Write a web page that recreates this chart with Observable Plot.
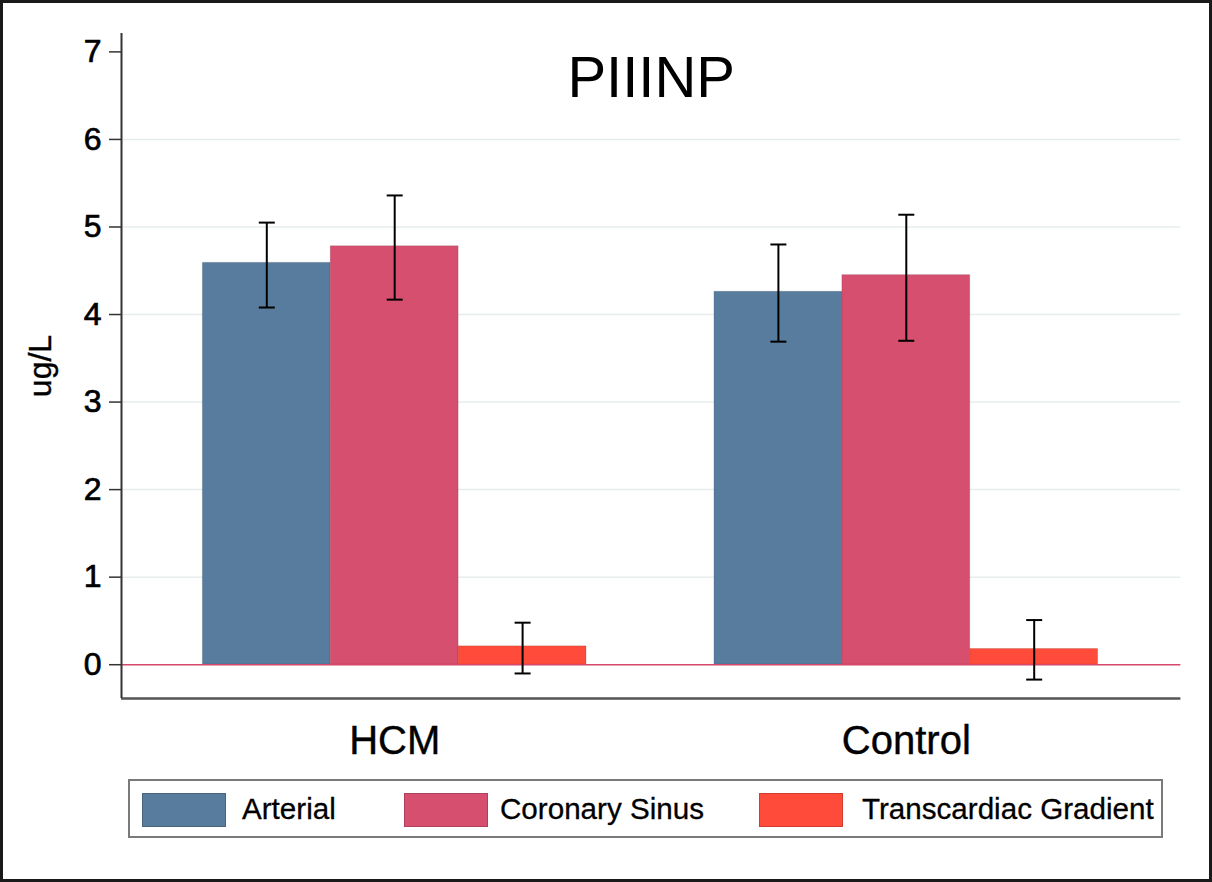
<!DOCTYPE html>
<html><head><meta charset="utf-8">
<script src="https://cdn.jsdelivr.net/npm/d3@7"></script>
<script src="https://cdn.jsdelivr.net/npm/@observablehq/plot@0.6"></script>
<style>
body{margin:0;background:#fff;}
#wrap{position:relative;width:1212px;height:882px;overflow:hidden;font-family:"Liberation Sans",Arial,Helvetica,sans-serif;background:#fff;}
#border{position:absolute;left:0;top:0;width:1212px;height:882px;box-sizing:border-box;border:3px solid #1a1a1a;pointer-events:none;}
#chart{position:absolute;left:0;top:0;}
#chart g[aria-label="y-axis tick label"] text{stroke:#000;stroke-width:0.7px;}
#chart .heavy text, #chart text.heavy{stroke:#000;stroke-width:0.4px;}
#legend{position:absolute;left:128px;top:779px;width:1035px;height:59px;box-sizing:border-box;border:2px solid #7a7a7a;background:#fff;}
.sw{position:absolute;top:12px;width:84px;height:34px;box-sizing:border-box;border:1.5px solid rgba(0,0,0,0.18);}
.lt{position:absolute;top:0;line-height:55px;font-size:29.6px;color:#000;white-space:nowrap;-webkit-text-stroke:0.3px #000;}
</style></head>
<body>
<div id="wrap"><div id="chart"></div><div id="legend"></div><div id="border"></div></div>
<script>
// ---- data ----
const groups = ["HCM", "Control"];
const series = ["Arterial", "Coronary Sinus", "Transcardiac Gradient"];
const hcmMean = [4.59, 4.78, 0.21];
const hcmLow = [4.08, 4.17, -0.10];
const hcmHigh = [5.05, 5.36, 0.48];
const controlMean = [4.26, 4.45, 0.18];
const controlLow = [3.69, 3.70, -0.17];
const controlHigh = [4.80, 5.14, 0.51];
const yTicks = [0, 1, 2, 3, 4, 5, 6, 7];
const gridTicks = [1, 2, 3, 4, 5, 6];
const colors = ["#587c9d", "#d64f6e", "#ff4b3a"];
const title = "PIIINP";
const yLabel = "ug/L";

// ---- build table ----
const groupData = [
  {group: groups[0], mean: hcmMean, low: hcmLow, high: hcmHigh},
  {group: groups[1], mean: controlMean, low: controlLow, high: controlHigh}
];
const step = series.length + 1; // one empty slot between groups
const rows = groupData.flatMap((g, gi) => series.map((s, si) => ({
  group: g.group, series: s, slot: gi * step + si,
  mean: g.mean[si], low: g.low[si], high: g.high[si]
})));
const groupLabels = groups.map((g, gi) => ({label: g, center: gi * step + series.length / 2}));

const xDomain = [-0.636, 7.647];
const yDomain = [-0.386, 7.21];

const cap = {draw(context, size) { const r = Math.sqrt(size / Math.PI); context.moveTo(-r, 0); context.lineTo(r, 0); }};

const plot = Plot.plot({
  width: 1212, height: 770,
  marginLeft: 121, marginRight: 31.6, marginTop: 33, marginBottom: 72,
  style: {fontFamily: "'Liberation Sans', Arial, Helvetica, sans-serif", background: "transparent", color: "#000", overflow: "visible"},
  x: {domain: xDomain, axis: null},
  y: {domain: yDomain, axis: null},
  color: {domain: series, range: colors},
  marks: [
    Plot.ruleY(gridTicks, {stroke: "#e6eded", strokeWidth: 1.5}),
    Plot.rectY(rows, {x1: "slot", x2: d => d.slot + 1, y1: 0, y2: "mean", fill: "series", stroke: "#000", strokeOpacity: 0.12, strokeWidth: 1}),
    Plot.ruleY([0], {stroke: "#d5486b", strokeWidth: 1.5}),
    Plot.ruleX(rows, {x: d => d.slot + 0.5, y1: "low", y2: "high", stroke: "#000", strokeWidth: 2}),
    Plot.dot(rows, {x: d => d.slot + 0.5, y: "low", r: 8, symbol: cap, fill: "none", stroke: "#000", strokeWidth: 2}),
    Plot.dot(rows, {x: d => d.slot + 0.5, y: "high", r: 8, symbol: cap, fill: "none", stroke: "#000", strokeWidth: 2}),
    Plot.ruleY([yDomain[0]], {stroke: "#555", strokeWidth: 2.5}),
    Plot.ruleX([xDomain[0]], {stroke: "#333", strokeWidth: 2}),
    Plot.axisY({ticks: yTicks, tickSize: 12, tickPadding: 8, fontSize: 32, stroke: "#333", strokeWidth: 1.5, fill: "#000", label: null}),
    Plot.text(groupLabels, {x: "center", text: "label", frameAnchor: "bottom", lineAnchor: "middle", dy: 43, fontSize: 40, fill: "#000", className: "heavy"}),
    Plot.text([title], {frameAnchor: "top", lineAnchor: "middle", dy: 45, fontSize: 58, fill: "#000"}),
    Plot.text([yLabel], {frameAnchor: "left", textAnchor: "middle", lineAnchor: "middle", dx: -81, rotate: -90, fontSize: 32, fill: "#000", className: "heavy"})
  ]
});
document.getElementById("chart").appendChild(plot);

// ---- legend ----
const legend = document.getElementById("legend");
const swatchLeft = [12, 274, 629];
const textLeft = [112, 370, 732];
series.forEach((s, i) => {
  const sw = document.createElement("div");
  sw.className = "sw"; sw.style.left = swatchLeft[i] + "px"; sw.style.background = colors[i];
  legend.appendChild(sw);
  const t = document.createElement("div");
  t.className = "lt"; t.style.left = textLeft[i] + "px"; t.textContent = s;
  legend.appendChild(t);
});
</script>
</body></html>
